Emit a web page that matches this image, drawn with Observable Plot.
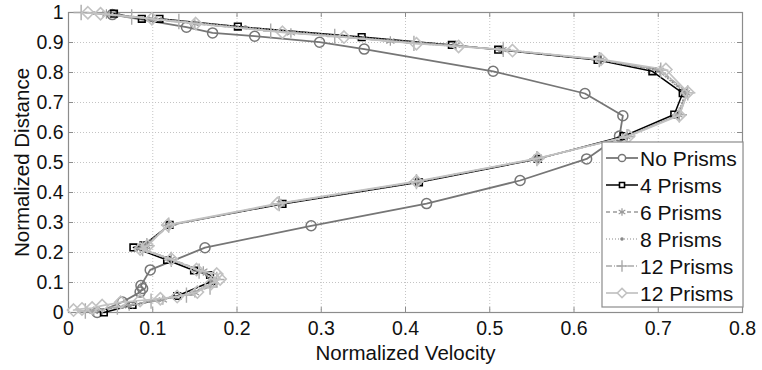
<!DOCTYPE html>
<html>
<head>
<meta charset="utf-8">
<script src="https://cdn.jsdelivr.net/npm/d3@7"></script>
<script src="https://cdn.jsdelivr.net/npm/@observablehq/plot@0.6"></script>
<style>
  html, body { margin: 0; padding: 0; background: #fff; }
  #chart { width: 762px; height: 370px; }
</style>
</head>
<body>
<div id="chart"></div>
<script>
// ---- Data ----
const seriesNames = ["No Prisms", "4 Prisms", "6 Prisms", "8 Prisms", "12 Prisms", "12 Prisms"];

const xNo = [0.034,0.064,0.085,0.088,0.086,0.097,0.162,0.288,0.425,0.536,0.615,0.654,0.658,0.613,0.504,0.351,0.298,0.221,0.171,0.140,0.052];
const yNo = [0.000,0.035,0.068,0.080,0.090,0.142,0.216,0.289,0.363,0.440,0.512,0.588,0.656,0.730,0.804,0.878,0.901,0.921,0.932,0.951,0.993];

const x4 = [0.042,0.076,0.129,0.171,0.168,0.149,0.117,0.077,0.089,0.120,0.254,0.416,0.557,0.659,0.719,0.729,0.693,0.628,0.510,0.455,0.348,0.201,0.108,0.087,0.054];
const y4 = [0.000,0.025,0.055,0.105,0.125,0.140,0.175,0.217,0.224,0.292,0.362,0.434,0.512,0.588,0.660,0.731,0.804,0.842,0.876,0.892,0.918,0.953,0.979,0.979,0.996];

const x6 = [0.030,0.072,0.112,0.150,0.172,0.160,0.122,0.085,0.092,0.120,0.252,0.414,0.556,0.662,0.724,0.733,0.702,0.632,0.515,0.460,0.382,0.264,0.150,0.100,0.045];
const y6 = [0.004,0.022,0.042,0.066,0.100,0.138,0.178,0.214,0.224,0.290,0.363,0.436,0.513,0.586,0.659,0.732,0.807,0.843,0.876,0.891,0.905,0.932,0.962,0.978,0.995];

const x8 = [0.025,0.065,0.105,0.145,0.170,0.158,0.120,0.082,0.090,0.119,0.252,0.415,0.557,0.661,0.723,0.732,0.700,0.630,0.512,0.458,0.350,0.210,0.110,0.060,0.030];
const y8 = [0.004,0.020,0.040,0.062,0.100,0.138,0.177,0.214,0.225,0.291,0.362,0.435,0.512,0.585,0.658,0.731,0.806,0.842,0.876,0.891,0.916,0.951,0.978,0.992,0.998];

const x12a = [0.020,0.058,0.098,0.140,0.168,0.176,0.155,0.122,0.088,0.093,0.119,0.250,0.413,0.556,0.663,0.725,0.735,0.703,0.630,0.516,0.410,0.316,0.240,0.131,0.075,0.015];
const y12a = [0.005,0.018,0.038,0.058,0.085,0.110,0.138,0.177,0.213,0.223,0.291,0.363,0.436,0.513,0.586,0.659,0.732,0.808,0.843,0.877,0.897,0.920,0.938,0.970,0.985,1.000];

const x12b = [0.006,0.016,0.028,0.040,0.062,0.085,0.109,0.129,0.153,0.169,0.180,0.176,0.152,0.122,0.085,0.094,0.118,0.248,0.413,0.557,0.665,0.725,0.735,0.709,0.632,0.527,0.463,0.413,0.327,0.254,0.151,0.099,0.038,0.023];
const y12b = [0.008,0.012,0.015,0.023,0.034,0.040,0.046,0.053,0.068,0.096,0.112,0.128,0.143,0.178,0.212,0.222,0.292,0.363,0.437,0.514,0.588,0.657,0.734,0.810,0.844,0.873,0.887,0.896,0.918,0.934,0.963,0.979,0.996,0.999];

const xTicks = [0,0.1,0.2,0.3,0.4,0.5,0.6,0.7,0.8];
const xTickLabels = ["0","0.1","0.2","0.3","0.4","0.5","0.6","0.7","0.8"];
const yTicks = [0,0.1,0.2,0.3,0.4,0.5,0.6,0.7,0.8,0.9,1];
const yTickLabels = ["0","0.1","0.2","0.3","0.4","0.5","0.6","0.7","0.8","0.9","1"];

const xLabel = "Normalized Velocity";
const yLabel = "Normalized Distance";

// ---- Styles ----
const styles = [
  {stroke: "#767676", width: 1.8, dash: null,       symbol: "circle",   r: 5,   sw: 1.5, lr: 3.6},
  {stroke: "#000000", width: 1.5, dash: null,       symbol: "square2",  r: 4.2, sw: 1.6, lr: 3.2},
  {stroke: "#9a9a9a", width: 1.3, dash: "4,3",      symbol: "asterisk", r: 4.5, sw: 1.2, lr: 3.6},
  {stroke: "#8a8a8a", width: 1.2, dash: "1,2",      symbol: "circle",   r: 1.3, sw: 1.2, lr: 1.2, fill: "#8a8a8a"},
  {stroke: "#ababab", width: 1.4, dash: "6,2,1,2",  symbol: "plus",     r: 5,   sw: 1.4, lr: 3.8},
  {stroke: "#c2c2c2", width: 1.7, dash: null,       symbol: "diamond2", r: 5.5, sw: 1.6, lr: 4.2}
];

const xs = [xNo, x4, x6, x8, x12a, x12b];
const ys = [yNo, y4, y6, y8, y12a, y12b];
const tables = xs.map((xa, k) => xa.map((x, i) => ({x, y: ys[k][i]})));

const seriesMarks = [];
tables.forEach((data, k) => {
  const s = styles[k];
  seriesMarks.push(Plot.line(data, {x: "x", y: "y", stroke: s.stroke, strokeWidth: s.width, strokeDasharray: s.dash, curve: "linear"}));
  seriesMarks.push(Plot.dot(data, {x: "x", y: "y", symbol: () => s.symbol, r: s.r, stroke: s.stroke, strokeWidth: s.sw, fill: s.fill || "none"}));
});

const frameColor = "#8c8c8c";
const gridStyle = {stroke: "#c4c4c4", strokeOpacity: 1, strokeDasharray: "1,2", strokeWidth: 1};

const svg = Plot.plot({
  width: 762,
  height: 370,
  marginLeft: 68,
  marginRight: 20,
  marginTop: 12,
  marginBottom: 58,
  x: {domain: [0, 0.8]},
  y: {domain: [0, 1]},
  style: {fontFamily: "'Liberation Sans', Arial, sans-serif", background: "#fff", color: "#111"},
  marks: [
    Plot.gridX(xTicks, gridStyle),
    Plot.gridY(yTicks, gridStyle),
    // inward tick marks (MATLAB style)
    Plot.ruleX(xTicks, {x: d => d, insetTop: 295, stroke: frameColor}),
    Plot.ruleX(xTicks, {x: d => d, insetBottom: 295, stroke: frameColor}),
    Plot.ruleY(yTicks, {y: d => d, insetRight: 669, stroke: frameColor}),
    Plot.ruleY(yTicks, {y: d => d, insetLeft: 669, stroke: frameColor}),
    Plot.frame({stroke: frameColor, strokeWidth: 1.2}),
    Plot.axisX(xTicks, {tickSize: 0, tickPadding: 9, fontSize: 19.5, label: null, tickFormat: (d, i) => xTickLabels[i]}),
    Plot.axisY(yTicks, {tickSize: 0, tickPadding: 5, fontSize: 19.5, label: null, tickFormat: (d, i) => yTickLabels[i]}),
    ...seriesMarks,
    Plot.text([xLabel], {frameAnchor: "bottom", dy: 41, fontSize: 20.5, lineAnchor: "middle", textAnchor: "middle", fill: "#111"}),
    Plot.text([yLabel], {frameAnchor: "left", dx: -46, rotate: -90, fontSize: 20.5, lineAnchor: "middle", textAnchor: "middle", fill: "#111"})
  ]
});

// ---- Legend ----
const sel = d3.select(svg);
const lg = sel.append("g").attr("class", "legend").attr("text-anchor", "start");
const bx = 602, by = 142, bw = 141, bh = 165;
lg.append("rect").attr("x", bx).attr("y", by).attr("width", bw).attr("height", bh)
  .attr("fill", "#fff").attr("stroke", frameColor).attr("stroke-width", 1.2);
const symMap = {circle: d3.symbolCircle, square2: d3.symbolSquare2, asterisk: d3.symbolAsterisk, plus: d3.symbolPlus, diamond2: d3.symbolDiamond2};
seriesNames.forEach((name, k) => {
  const s = styles[k];
  const cy = 158 + k * 27;
  lg.append("line").attr("x1", 606).attr("x2", 638).attr("y1", cy).attr("y2", cy)
    .attr("stroke", s.stroke).attr("stroke-width", s.width)
    .attr("stroke-dasharray", s.dash);
  lg.append("path").attr("transform", `translate(622,${cy})`)
    .attr("d", d3.symbol(symMap[s.symbol], Math.PI * s.lr * s.lr)())
    .attr("fill", s.fill || "#fff").attr("stroke", s.stroke).attr("stroke-width", s.sw);
  lg.append("text").attr("x", 640).attr("y", cy).attr("dy", "0.36em")
    .attr("text-anchor", "start")
    .attr("font-size", 21).attr("fill", "#111").text(name);
});

document.getElementById("chart").appendChild(svg);
</script>
</body>
</html>
